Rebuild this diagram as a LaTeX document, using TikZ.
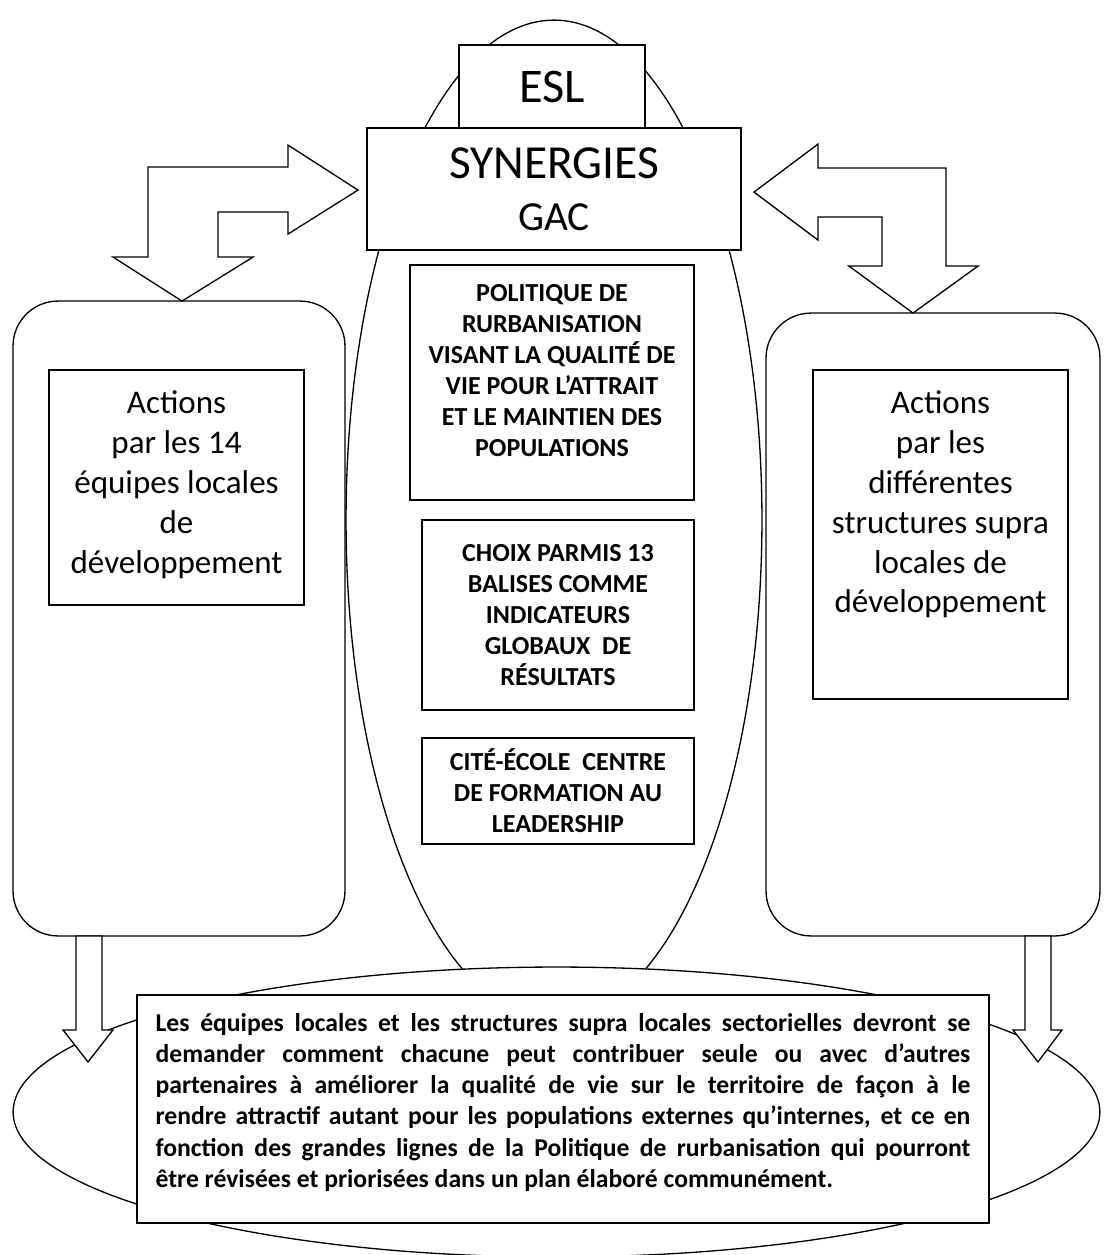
\documentclass[tikz,border=0pt]{standalone}
\usepackage{fontspec}
\setmainfont{Carlito}
\usetikzlibrary{shapes.geometric}

\begin{document}
\begin{tikzpicture}[x=0.02cm, y=-0.02cm, line width=0.75pt,
    box/.style={rectangle, draw, fill=white, inner sep=0pt, outer sep=0pt},
    roundbox/.style={rectangle, rounded corners=0.9cm, draw, inner sep=0pt, outer sep=0pt},
    oval/.style={ellipse, draw, fill=white, inner sep=0pt, outer sep=0pt},
    bigarrow/.style={draw, fill=white, line join=miter},
    acttext/.style={align=center, inner sep=0pt, font=\fontsize{18.8}{22.7}\selectfont},
    captext/.style={align=center, inner sep=0pt, font=\bfseries\fontsize{14.8}{17.6}\selectfont}]

        \useasboundingbox (0,0) rectangle (1105,1255);

        \node[oval, minimum width=8.32cm, minimum height=20cm] (axis) at (554,520) {};
        \node[oval, minimum width=21.74cm, minimum height=5.8cm] (plan) at (556.5,1112) {};

        \node[box, minimum width=3.72cm, minimum height=1.66cm, font=\fontsize{27.5}{30}\selectfont] (esl) at (552,86.5) {ESL};
        \node[box, minimum width=7.48cm, minimum height=2.44cm, align=center, font=\fontsize{27}{29.5}\selectfont] (synergies) at (554,189) {SYNERGIES\\{\fontsize{23.5}{29.5}\selectfont GAC}};

        % Side blocks
        \node[roundbox, minimum width=6.64cm, minimum height=12.7cm] (locales) at (179,618.5) {};
        \node[roundbox, minimum width=6.68cm, minimum height=12.46cm] (supra) at (933,624.5) {};

        \node[box, minimum width=5.1cm, minimum height=4.7cm] (equipes) at (176.5,487.5) {};
        \node[acttext, anchor=north] (equipestxt) at ([yshift=-0.4cm]equipes.north) {Actions\\par les 14\\équipes locales\\de\\développement};
        \node[box, minimum width=5.1cm, minimum height=6.58cm] (structures) at (940.5,534.5) {};
        \node[acttext, anchor=north] (structurestxt) at ([yshift=-0.4cm]structures.north) {Actions\\par les\\différentes\\structures supra\\locales de\\développement};

        % Centre column
        \node[box, minimum width=5.68cm, minimum height=4.7cm] (politique) at (552,382.5) {};
        \node[captext, anchor=north] (politiquetxt) at ([yshift=-0.38cm]politique.north) {POLITIQUE DE\\RURBANISATION\\VISANT LA QUALITÉ DE\\VIE POUR L’ATTRAIT\\ET LE MAINTIEN DES\\POPULATIONS};
        \node[box, captext, minimum width=5.44cm, minimum height=3.8cm] (balises) at (558,615) {CHOIX PARMIS 13\\BALISES COMME\\INDICATEURS\\GLOBAUX~~DE\\RÉSULTATS};
        \node[box, captext, minimum width=5.44cm, minimum height=2.12cm] (citeecole) at (558,791) {CITÉ-ÉCOLE~~CENTRE\\DE FORMATION AU\\LEADERSHIP};

        % Bottom text
        \node[box, minimum width=17.04cm, minimum height=4.56cm] (synthese) at (563,1109) {};
        \node[anchor=north, text width=16.3cm, align=justify, inner sep=0pt, font=\bfseries\fontsize{14.6}{17.7}\selectfont] (synthesetxt) at ([yshift=-0.36cm]synthese.north) {Les équipes locales et les structures supra locales sectorielles devront se\linebreak
        demander comment chacune peut contribuer seule ou avec d’autres\linebreak
        partenaires à améliorer la qualité de vie sur le territoire de façon à le\linebreak
        rendre attractif autant pour les populations externes qu’internes, et ce en\linebreak
        fonction des grandes lignes de la Politique de rurbanisation qui pourront\linebreak
        être révisées et priorisées dans un plan élaboré communément.};

        % Add block arrows
        \draw[bigarrow] ([xshift=0.06cm]locales.north) -- ++(71,-44) -- ++(-35,0) -- ++(0,-45) -- ++(70,0) -- ++(0,22) -- ++(70,-44) -- ++(-70,-45) -- ++(0,22) -- ++(-140,0) -- ++(0,90) -- ++(-35,0) -- cycle;
        \draw[bigarrow] ([xshift=-0.4cm]supra.north) -- ++(65,-47) -- ++(-32,0) -- ++(0,-98) -- ++(-128,0) -- ++(0,-24) -- ++(-64,48) -- ++(64,48) -- ++(0,-23) -- ++(64,0) -- ++(0,49) -- ++(-33,0) -- cycle;
        \draw[bigarrow] ([xshift=1.26cm]locales.south west) -- ++(0,94) -- ++(-13,0) -- ++(25,32) -- ++(25,-32) -- ++(-11,0) -- ++(0,-94) -- cycle;
        \draw[bigarrow] ([xshift=-1.5cm]supra.south east) -- ++(0,94) -- ++(-12,0) -- ++(25,32) -- ++(24,-32) -- ++(-11,0) -- ++(0,-94) -- cycle;
    \end{tikzpicture}
\end{document}
